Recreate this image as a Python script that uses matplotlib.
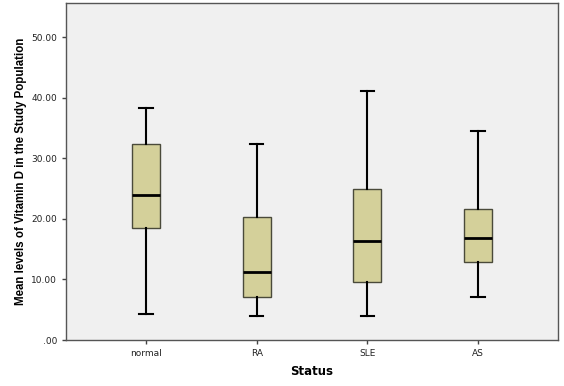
import matplotlib.pyplot as plt

status = ['normal', 'RA', 'SLE', 'AS']
whisker_low = [4.35, 4.0, 4.0, 7.1]
q1 = [18.5, 7.05, 9.6, 12.9]
medians = [24.0, 11.3, 16.4, 16.8]
q3 = [32.4, 20.4, 24.9, 21.7]
whisker_high = [38.4, 32.4, 41.1, 34.5]
y_ticks = [0, 10, 20, 30, 40, 50]
y_tick_labels = ['.00', '10.00', '20.00', '30.00', '40.00', '50.00']

stats = []
for i, name in enumerate(status):
    stats.append({'label': name, 'whislo': whisker_low[i], 'q1': q1[i],
                  'med': medians[i], 'q3': q3[i], 'whishi': whisker_high[i]})

fig = plt.figure(figsize=(5.64, 3.86), dpi=100)
ax = fig.add_axes([66/564, 46/386, 492/564, 337/386])
ax.set_facecolor('#f0f0f0')

positions = range(1, len(status) + 1)
ax.bxp(stats, positions=positions, widths=0.25, patch_artist=True, showfliers=False,
       boxprops=dict(facecolor='#d4d09a', edgecolor='#4a4a3a', linewidth=1.0),
       medianprops=dict(color='black', linewidth=2.0),
       whiskerprops=dict(color='black', linewidth=1.5),
       capprops=dict(color='black', linewidth=1.5),
       capwidths=0.12)

ax.set_xlim(0.277, 4.723)
ax.set_ylim(0, 55.7)
ax.set_yticks(y_ticks)
ax.set_yticklabels(y_tick_labels)
ax.set_xticks(list(positions))
ax.set_xticklabels(status)
ax.tick_params(axis='both', labelsize=6.5, length=3, width=1, color='#444444', labelcolor='#222222')

for s in ax.spines.values():
    s.set_color('#555555')
    s.set_linewidth(1.0)

ax.set_xlabel('Status', fontsize=8.5, fontweight='bold', labelpad=5)
ax.set_ylabel('Mean levels of Vitamin D in the Study Population', fontsize=8.3, fontweight='bold',
              family=['Liberation Sans', 'DejaVu Sans'], labelpad=3)

plt.savefig('out.png', dpi=100)
